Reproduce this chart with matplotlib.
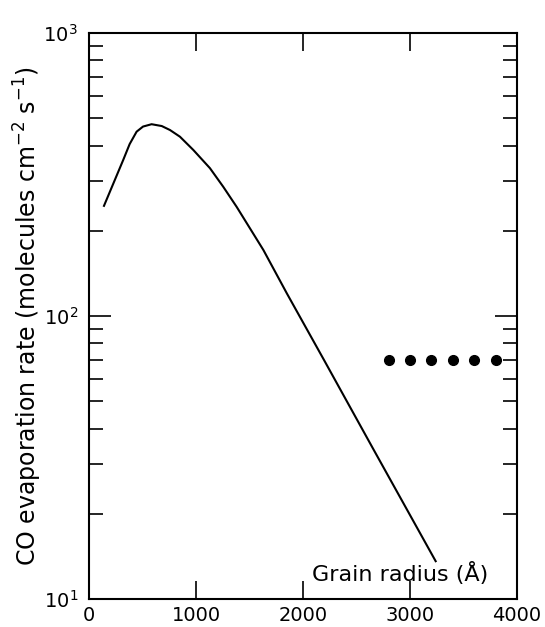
import numpy as np
import matplotlib
matplotlib.use("Agg")
import matplotlib.pyplot as plt
from matplotlib.ticker import LogLocator, NullFormatter, FixedLocator

# Кривая скорости испарения CO в зависимости от радиуса зерна
grain_radius = [140, 320, 380, 445, 505, 585, 680, 757, 850, 975, 1130, 1255, 1380,
                1630, 1850, 2200, 2660, 3240]
evap_rate = [245, 356, 405, 448, 467, 476, 469, 454, 430, 386, 333, 286, 243,
             171, 120, 69.5, 33.7, 13.6]

# Точки (горизонтальный ряд)
dot_radius = [2800, 3000, 3200, 3400, 3600, 3800]
dot_rate = [70, 70, 70, 70, 70, 70]

x_ticks = [0, 1000, 2000, 3000, 4000]

plt.rcParams['font.family'] = ['DejaVu Sans']

fig = plt.figure(figsize=(5.45, 6.27), dpi=100)
ax = fig.add_axes([0.1633, 0.0447, 0.7853, 0.9027])

ax.plot(grain_radius, evap_rate, color='black', linewidth=1.5)
ax.plot(dot_radius, dot_rate, linestyle='none', marker='o', color='black', markersize=7)

ax.set_yscale('log')
ax.set_xlim(0, 4000)
ax.set_ylim(10, 1000)

ax.xaxis.set_major_locator(FixedLocator(x_ticks))
ax.yaxis.set_major_locator(LogLocator(base=10, numticks=5))
ax.yaxis.set_minor_locator(LogLocator(base=10, subs=np.arange(2, 10), numticks=20))
ax.yaxis.set_minor_formatter(NullFormatter())

ax.tick_params(axis='x', which='major', direction='in', length=13, width=1.2,
               top=True, labelsize=14, pad=5)
ax.tick_params(axis='x', which='minor', bottom=False, top=False)
ax.tick_params(axis='y', which='major', direction='in', length=16, width=1.2,
               right=True, labelsize=14, pad=8)
ax.tick_params(axis='y', which='minor', direction='in', length=10, width=1.2,
               right=True)

for s in ax.spines.values():
    s.set_linewidth(1.5)

ax.set_ylabel("CO evaporation rate (molecules cm$^{-2}$ s$^{-1}$)", fontsize=17)
ax.yaxis.set_label_coords(-0.105, 0.5)
ax.text(0.727, 0.045, "Grain radius (Å)", transform=ax.transAxes,
        ha='center', va='center', fontsize=16)

fig.savefig("out.png", dpi=100)
plt.close(fig)
